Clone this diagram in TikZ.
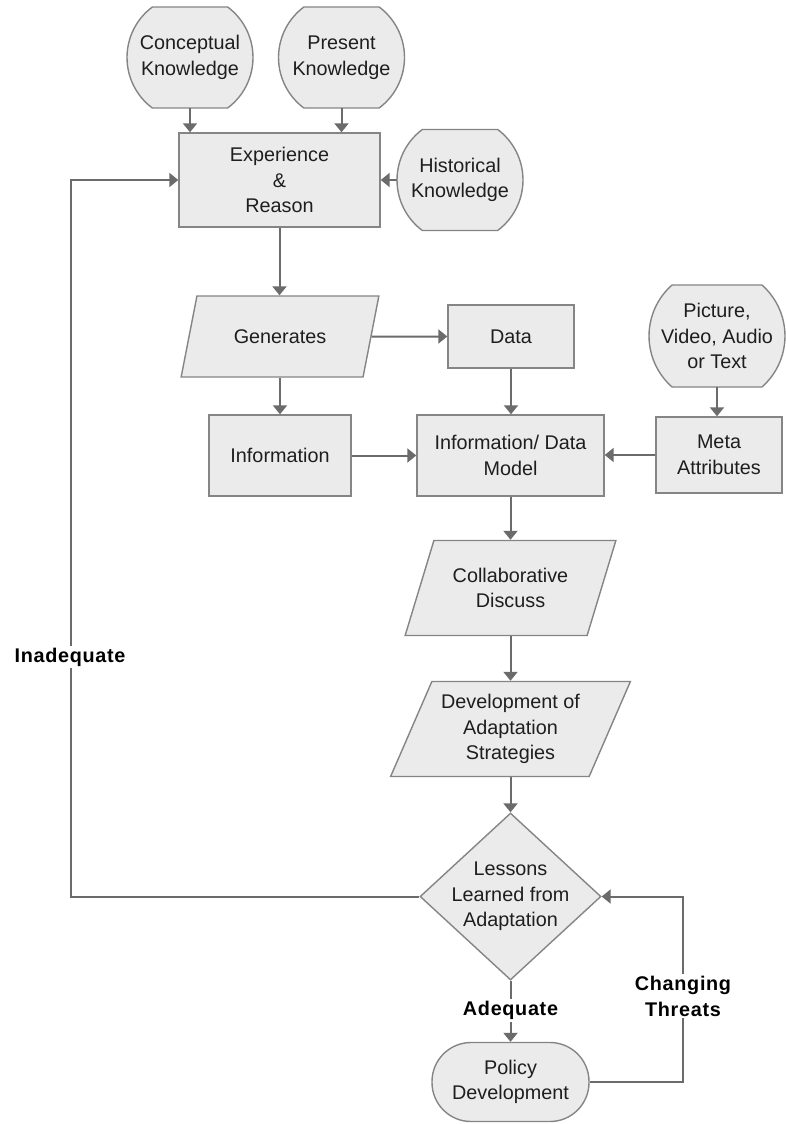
\documentclass[tikz,border=0pt]{standalone}
\usepackage{fontspec}
\setmainfont{Liberation Sans}
\newfontfamily\labelfont[LetterSpace=3.5]{Liberation Sans}
\usetikzlibrary{arrows.meta,shapes.geometric,calc,backgrounds}

\definecolor{boxfill}{HTML}{EBEBEB}
\definecolor{boxline}{HTML}{858585}
\definecolor{flowline}{HTML}{6B6B6B}
\definecolor{ink}{HTML}{1E1E1E}

% Circle with flat top and bottom, drawn around a named node:
% #1 node, #2 radius, #3 half height of the flat cuts
\newcommand\cutcircle[3]{%
  \pgfmathsetmacro\cutang{asin(#3/#2)}%
  \filldraw[draw=boxline, fill=boxfill, line width=1.4pt]
    ($(#1.center)+(-\cutang:#2pt)$)
      arc[start angle=-\cutang, end angle=\cutang, radius=#2pt]
    -- ($(#1.center)+(180-\cutang:#2pt)$)
      arc[start angle=180-\cutang, end angle=180+\cutang, radius=#2pt]
    -- cycle;}

\begin{document}
\begin{tikzpicture}[x=1pt, y=-1pt,
  every node/.style={font=\fontsize{19.8}{25.5}\selectfont, text=ink, align=center},
  box/.style={rectangle, draw=boxline, fill=boxfill, line width=1.4pt, inner sep=2pt},
  knob/.style={rectangle, inner sep=2pt},
  para/.style={trapezium, trapezium left angle=63, trapezium right angle=117,
    trapezium stretches=true, draw=boxline, fill=boxfill, line width=1.4pt, inner sep=2pt},
  decision/.style={diamond, draw=boxline, fill=boxfill, line width=1.4pt, inner sep=0pt},
  terminal/.style={rectangle, rounded corners=39pt, draw=boxline, fill=boxfill, line width=1.4pt},
  flow/.style={draw=flowline, line width=2pt, -{Triangle[width=14pt,length=9pt]}},
  tag/.style={fill=white, inner sep=2pt, text=black,
    font=\labelfont\bfseries\fontsize{19.8}{26}\selectfont}
]
\begin{scope}[on background layer]
  \fill[white] (0,0) rectangle (785,1124);
\end{scope}
\useasboundingbox (0,0) rectangle (785,1124);

% knowledge sources
\node[knob, minimum width=126, minimum height=101] (ck) at (190,57.5) {Conceptual\\Knowledge};
\node[knob, minimum width=126, minimum height=101] (pk) at (341.5,57.5) {Present\\Knowledge};
\node[knob, minimum width=126, minimum height=101] (hk) at (460,180) {Historical\\Knowledge};
\node[knob, minimum width=136, minimum height=102] (pic) at (717,336) {Picture,\\Video, Audio\\or Text};

% process boxes
\node[box, minimum width=201, minimum height=94] (er) at (279.5,180) {Experience\\\&\\Reason};
\node[para, minimum width=198, minimum height=81] (gen) at (280,336.5) {Generates};
\node[box, minimum width=126, minimum height=63] (data) at (511,336.5) {Data};
\node[box, minimum width=142, minimum height=81] (info) at (280,455.5) {Information};
\node[box, minimum width=187, minimum height=81] (model) at (510.5,455.5) {Information/ Data\\Model};
\node[box, minimum width=126, minimum height=76] (meta) at (719,455) {Meta\\Attributes};
\node[para, minimum width=211, minimum height=95] (collab) at (510.5,588) {Collaborative\\Discuss};
\node[para, minimum width=240, minimum height=95] (dev) at (510.5,729) {Development of\\Adaptation\\Strategies};
\node[decision, minimum width=181, minimum height=167] (ll) at (510.5,896.5) {};
\node (lltext) at (ll.center) {Lessons\\Learned from\\Adaptation};
\node[terminal, minimum width=157, minimum height=79] (pol) at (510.5,1082) {Policy\\Development};

\begin{scope}[on background layer]
  \cutcircle{ck}{63}{50.5}
  \cutcircle{pk}{63}{50.5}
  \cutcircle{hk}{63}{50.5}
  \cutcircle{pic}{68}{51}
\end{scope}

% connectors
\draw[flow] (ck.south) -- (ck.south |- er.north);
\draw[flow] (pk.south) -- (pk.south |- er.north);
\draw[flow] (hk.west) -- (er.east |- hk.west);
\draw[flow] (er.south) -- (er.south |- gen.north);
\draw[flow] (gen.east) -- (data.west);
\draw[flow] (gen.center |- gen.south) -- (gen.center |- info.north);
\draw[flow] (data.south) -- (data.south |- model.north);
\draw[flow] (info.east) -- (model.west);
\draw[flow] (meta.west) -- (model.east |- meta.west);
\draw[flow] (pic.south) -- (pic.south |- meta.north);
\draw[flow] (model.south) -- (model.south |- collab.north);
\draw[flow] (collab.center |- collab.south) -- (collab.center |- dev.north);
\draw[flow] (dev.center |- dev.south) -- (dev.center |- ll.north);
\draw[flow] (ll.south) -- (pol.north);
\coordinate (ctbend) at (683,1082);
\draw[flow] (pol.east) -- (ctbend) |- (ll.east);
\coordinate (iabend) at (71,180);
\draw[flow] (ll.west) -| (iabend) -- (er.west);

% branch labels
\node[tag] (inadeq) at (70,657) {Inadequate};
\node[tag] (adeq) at (510.5,1010.7) {Adequate};
\node[tag] (threats) at (683,996) {Changing\\Threats};
\end{tikzpicture}
\end{document}
